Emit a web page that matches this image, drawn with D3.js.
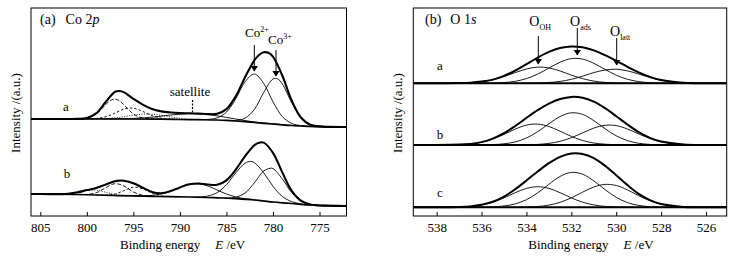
<!DOCTYPE html>
<html>
<head>
<meta charset="utf-8">
<script src="https://cdn.jsdelivr.net/npm/d3@7"></script>
<style>
  body { margin: 0; background: #fff; }
  text { font-family: "Liberation Serif", "Times New Roman", serif; fill: #000; }
</style>
</head>
<body>
<div id="chart"></div>
<script>
// ---- Co 2p, spectrum a : [binding energy, intensity] ----
const coA_base = [[806,8],[796,8],[792,7.8],[790,7.5],[788,7.3],[786,7],[785,6.6],[784,6],[783,5.3],[782,4.5],[781,3.7],[780,3],[779,2.2],[778,1.5],[777,1],[776,0.5],[775,0.3],[774,0.1],[772,0]];
const coA_env = [[806,8],[802,8],[801,8.1],[800,9],[799,13.6],[798,24.7],[797,35],[796.5,36],[796,34.6],[795,28.2],[794,22.4],[793,18],[792,15.6],[791,14.5],[790,13.9],[789,13.7],[788,13.4],[787,12.9],[786,13.3],[785,17.9],[784,30.8],[783,49.8],[782,66.7],[781.5,72],[781,74.7],[780.5,74.3],[780,70.4],[779,51.5],[778,26.7],[777,9.5],[776,2.3],[775,0.6],[774,0.1],[772,0]];
const coA_co2 = [[788,7.3],[787,7.6],[786,9.1],[785,14.9],[784,28.2],[783,45.2],[782,53],[781,43.6],[780,25.2],[779,10.5],[778,3.6],[777,1.4],[776,0.5],[775,0.3]];
const coA_co3 = [[785,6.6],[784,6.6],[783,8.8],[782,17.6],[781,34.5],[780,48],[779.5,48.1],[779,43.1],[778,24.6],[777,9.1],[776,2.3],[775,0.6],[774,0.1]];
const coA_sat = [[798,8],[797,8.1],[796,8.3],[795,8.6],[794,9.1],[793,9.8],[792,10.8],[791,12],[790,12.8],[789,13.3],[788,13.2],[787,12.5],[786,11.2],[785,9.6],[784,8],[783,6.4],[782,5.1],[781,4],[780,3.2],[779,2.3],[778,1.6]];
const coA_d1 = [[802,8],[801,8],[800,8.9],[799,13],[798,22.1],[797.5,26.3],[797,28],[796.5,26.3],[796,22.1],[795,13],[794,8.9],[793,8.1],[792,7.8]];
const coA_d2 = [[801,8],[800,8.1],[799,8.5],[798,10.2],[797,13.8],[796,17.9],[795,18.8],[794,15.6],[793,11.4],[792,8.8],[791,8],[790,7.5]];
const coA_dot = [[800,8],[799,8.1],[798,8.4],[797,9.1],[796,10.3],[795,11.8],[794,12.8],[793,12.8],[792,11.6],[791,10.1],[790,8.6],[789,7.8],[788,7.4]];

// ---- Co 2p, spectrum b ----
const coB_base = [[806,12],[803,11.8],[801,11.5],[799,11],[797,10.5],[795,10.1],[793,9.6],[791,9.3],[789,9],[787,8.5],[786,8.2],[785,7.8],[784,7.3],[783,6.7],[782,6],[781,5],[780,4],[779,3.2],[778,2.5],[777,1.7],[776,1],[775,0.5],[774,0.3],[772,0]];
const coB_env = [[806,12],[804,11.9],[803,11.9],[802,12.3],[801,13.7],[800,15.9],[799,18.1],[798,21.3],[797,24.7],[796.5,25.4],[796,25.2],[795,22.8],[794,18.3],[793,14],[792,12.8],[791,14.9],[790,18.6],[789,21.7],[788,22.5],[787,21.5],[786,21.3],[785,25.7],[784,36.4],[783,49.8],[782,60.8],[781.5,63.3],[781,63.4],[780,53.2],[779,33.6],[778,15.4],[777,5.4],[776,1.6],[775,0.5],[774,0.3],[772,0]];
const coB_co2 = [[788,8.8],[787,10],[786,13.4],[785,21.3],[784,33.1],[783,42.9],[782.4,44.6],[782,43.4],[781,33.3],[780,19.7],[779,9.6],[778,4.4],[777,2.1],[776,1],[775,0.5]];
const coB_co3 = [[785,8],[784,8.8],[783,13],[782,23.2],[781,35],[780.3,37.7],[780,37.5],[779,27.2],[778,13.5],[777,5],[776,1.6],[775,0.5],[774,0.3]];
const coB_sat = [[795,10.1],[794,10.2],[793,10.6],[792,12.1],[791,14.8],[790,18.6],[789,21.6],[788,22.2],[787,20],[786,16],[785,12],[784,9.1],[783,7.3],[782,6.2],[781,5.1],[780,4]];
const coB_d1 = [[801,11.5],[800,11.6],[799,13.2],[798,18.1],[797,22.3],[796,19.9],[795,14],[794,10.7],[793,9.7],[792,9.5]];
const coB_d2 = [[799,11],[798,11],[797,11.9],[796,15.4],[795,18.8],[794,17.2],[793,12.9],[792,10.2],[791,9.4],[790,9.2]];
const coB_dot = [[804,11.9],[803,11.9],[802,12.3],[801,13.6],[800,15.6],[799,15.9],[798,13.8],[797,11.5],[796,10.5],[795,10.1]];

// ---- O 1s, shared energy grid ----
const oEnergy = [539,538,537,536.5,536,535.5,535,534.5,534,533.5,533,532.5,532,531.5,531,530.5,530,529.5,529,528.5,528,527,526,525];
const oA_env  = [0,0,0.2,0.6,1.7,3.7,7.4,12.7,19.1,25.7,31.4,35.3,36.9,36,32.9,28.1,22.5,16.5,11,6.4,3.2,0.5,0,0];
const oA_oh   = [0,0,0.2,0.6,1.6,3.5,6.7,10.7,14.3,16.2,15.4,12.3,8.2,4.7,2.2,0.9,0.3,0.1,0,0,0,0,0,0];
const oA_ads  = [0,0,0,0,0.1,0.2,0.7,2,4.7,9.2,15.2,21.1,24.7,24.2,20,13.9,8.1,4,1.7,0.6,0.2,0,0,0];
const oA_latt = [0,0,0,0,0,0,0,0,0.1,0.3,0.8,1.9,4,7.1,10.7,13.3,14.1,12.4,9.3,5.8,3,0.5,0,0];
const oB_env  = [0,0,0.4,1.1,2.9,6.4,11.8,19,27.1,34.8,41.3,46,48.1,47.2,43.3,36.8,28.8,20.5,12.8,7.1,3.4,0.5,0,0];
const oB_oh   = [0,0,0.4,1.1,2.8,6,10.6,15.9,19.9,20.9,18.5,13.8,8.6,4.5,2,0.8,0.2,0.1,0,0,0,0,0,0];
const oB_ads  = [0,0,0,0,0.1,0.4,1.2,3.1,7,13.3,21.2,28.5,32.2,30.6,24.4,16.3,9.2,4.4,1.7,0.6,0.2,0,0,0];
const oB_latt = [0,0,0,0,0,0,0,0,0.2,0.6,1.6,3.7,7.3,12.1,16.9,19.7,19.4,16,11.1,6.5,3.2,0.5,0,0];
const oC_env  = [0,0,0.3,0.9,2.5,5.5,10.7,18.1,26.8,35.8,44.1,50.5,53.8,53.3,49.1,41.5,32.1,22.2,13.5,7.2,3.3,0.4,0,0];
const oC_oh   = [0,0,0.3,0.9,2.4,5.1,9.4,14.6,18.9,20.6,18.9,14.6,9.4,5.1,2.4,0.9,0.3,0.1,0,0,0,0,0,0];
const oC_ads  = [0,0,0,0,0.1,0.4,1.3,3.4,7.6,14.4,23,30.9,34.9,33.1,26.4,17.7,10,4.7,1.9,0.6,0.2,0,0,0];
const oC_latt = [0,0,0,0,0,0,0,0.1,0.3,0.8,2.2,5,9.5,15.1,20.3,22.9,21.8,17.4,11.6,6.6,3.1,0.4,0,0];

const coTicks = [805, 800, 795, 790, 785, 780, 775];
const oTicks = [538, 536, 534, 532, 530, 528, 526];

const W = 737, H = 257;
const plotTop = 8, plotBottom = 216;

const svg = d3.select("#chart").append("svg")
  .attr("width", W)
  .attr("height", H);

svg.append("defs").append("marker")
  .attr("id", "arrow")
  .attr("viewBox", "0 0 6 8")
  .attr("refX", 5.5).attr("refY", 4)
  .attr("markerWidth", 6).attr("markerHeight", 8)
  .attr("markerUnits", "userSpaceOnUse")
  .attr("orient", "auto")
  .append("path").attr("d", "M0,0 L6,4 L0,8 Z").attr("fill", "#000");

const y = d3.scaleLinear().domain([0, 208]).range([plotBottom, plotTop]);

function makePanel(id, left, right, domain, ticks) {
  const x = d3.scaleLinear().domain(domain).range([left, right]);
  svg.append("clipPath").attr("id", id)
    .append("rect").attr("x", left).attr("y", plotTop)
    .attr("width", right - left).attr("height", plotBottom - plotTop);
  const g = svg.append("g");
  const plot = g.append("g").attr("clip-path", "url(#" + id + ")");

  g.append("rect")
    .attr("x", left).attr("y", plotTop)
    .attr("width", right - left).attr("height", plotBottom - plotTop)
    .attr("fill", "none").attr("stroke", "#000").attr("stroke-width", 1);

  const ax = g.append("g")
    .attr("transform", "translate(0," + plotBottom + ")")
    .call(d3.axisBottom(x).tickValues(ticks).tickSizeInner(-4).tickSizeOuter(0).tickPadding(7).tickFormat(d3.format("d")));
  ax.select(".domain").remove();
  ax.selectAll("text").attr("font-size", 13).attr("font-family", "Liberation Serif, serif");

  return { x, g, plot };
}

function drawLine(p, data, off, w, dash) {
  const line = d3.line()
    .x(d => p.x(d[0]))
    .y(d => y(d[1] + off))
    .curve(d3.curveCatmullRom.alpha(0.5));
  p.plot.append("path")
    .datum(data)
    .attr("d", line)
    .attr("fill", "none")
    .attr("stroke", "#000")
    .attr("stroke-width", w)
    .attr("stroke-dasharray", dash || null)
    .attr("stroke-linejoin", "round");
}

const zip = vals => oEnergy.map((e, i) => [e, vals[i]]);

// ---------- panel (a) Co 2p ----------
const pa = makePanel("clipA", 31, 346.5, [806, 772.1], coTicks);

[[coA_base, coA_env, coA_co2, coA_co3, coA_sat, coA_d1, coA_d2, coA_dot, 89],
 [coB_base, coB_env, coB_co2, coB_co3, coB_sat, coB_d1, coB_d2, coB_dot, 10]]
  .forEach(s => {
    const off = s[8];
    drawLine(pa, s[5], off, 0.9, "4,2");
    drawLine(pa, s[6], off, 0.9, "2.5,2");
    drawLine(pa, s[7], off, 0.9, "1,1.5");
    drawLine(pa, s[4], off, 0.9);
    drawLine(pa, s[2], off, 0.9);
    drawLine(pa, s[3], off, 0.9);
    drawLine(pa, s[0], off, 1.7);
    drawLine(pa, s[1], off, 2.1);
  });

// ---------- panel (b) O 1s ----------
const pb = makePanel("clipB", 413.3, 726.7, [539.04, 525.08], oTicks);

[[oA_env, oA_oh, oA_ads, oA_latt, 132.7],
 [oB_env, oB_oh, oB_ads, oB_latt, 71],
 [oC_env, oC_oh, oC_ads, oC_latt, 8.7]]
  .forEach(s => {
    const off = s[4];
    drawLine(pb, zip(s[1]), off, 0.9);
    drawLine(pb, zip(s[2]), off, 0.9);
    drawLine(pb, zip(s[3]), off, 0.9);
    drawLine(pb, zip(s[0]), off, 2);
    drawLine(pb, [[539.04, 0], [525.08, 0]], off, 2);
  });

// ---------- texts ----------
function label(x, yy, parts, size, anchor) {
  const t = svg.append("text")
    .attr("x", x).attr("y", yy)
    .attr("font-size", size || 13)
    .attr("text-anchor", anchor || "start");
  parts.forEach(p => {
    const s = t.append("tspan").text(p.t);
    if (p.i) s.attr("font-style", "italic");
    if (p.sup) s.attr("font-size", 8).attr("dy", -5);
    if (p.sub) s.attr("font-size", 8).attr("dy", 4);
    if (p.dx) s.attr("dx", p.dx);
  });
  return t;
}

label(40, 24, [{ t: "(a)" }, { t: "Co 2", dx: 10 }, { t: "p", i: true }], 14);
label(425, 24, [{ t: "(b)" }, { t: "O 1", dx: 9 }, { t: "s", i: true }], 14);

label(66, 111, [{ t: "a" }], 13, "middle");
label(67, 178, [{ t: "b" }], 13, "middle");
label(440, 70, [{ t: "a" }], 13, "middle");
label(440, 139, [{ t: "b" }], 13, "middle");
label(440, 197, [{ t: "c" }], 13, "middle");

label(120, 249, [{ t: "Binding energy" }, { t: "E", i: true, dx: 15 }, { t: " /eV" }], 13);
label(528.3, 249, [{ t: "Binding energy" }, { t: "E", i: true, dx: 15 }, { t: " /eV" }], 13);

[15, 397].forEach(cx => {
  svg.append("text")
    .attr("transform", "translate(" + cx + ",113) rotate(-90)")
    .attr("text-anchor", "middle")
    .attr("dy", "0.35em")
    .attr("font-size", 13)
    .text("Intensity /(a.u.)");
});

// Co 2p annotations
label(190, 96, [{ t: "satellite" }], 13, "middle");
svg.append("line")
  .attr("x1", 192.5).attr("x2", 192.5).attr("y1", 100).attr("y2", 113)
  .attr("stroke", "#000").attr("stroke-width", 1.2).attr("stroke-dasharray", "2,1.5");

label(245, 37, [{ t: "Co" }, { t: "2+", sup: true }], 13);
label(268, 44, [{ t: "Co" }, { t: "3+", sup: true }], 13);

function arrow(x, y1, y2) {
  svg.append("line")
    .attr("x1", x).attr("x2", x).attr("y1", y1).attr("y2", y2)
    .attr("stroke", "#000").attr("stroke-width", 1)
    .attr("marker-end", "url(#arrow)");
}
arrow(254.3, 45, 71);
arrow(276, 50, 76);

// O 1s annotations
label(529.3, 26, [{ t: "O" }, { t: "OH", sub: true }], 14);
label(570, 26, [{ t: "O" }, { t: "ads", sub: true }], 14);
label(610, 36, [{ t: "O" }, { t: "latt", sub: true }], 14);
arrow(538.3, 36, 64);
arrow(577.3, 28, 55);
arrow(616.7, 38, 65);
</script>
</body>
</html>
